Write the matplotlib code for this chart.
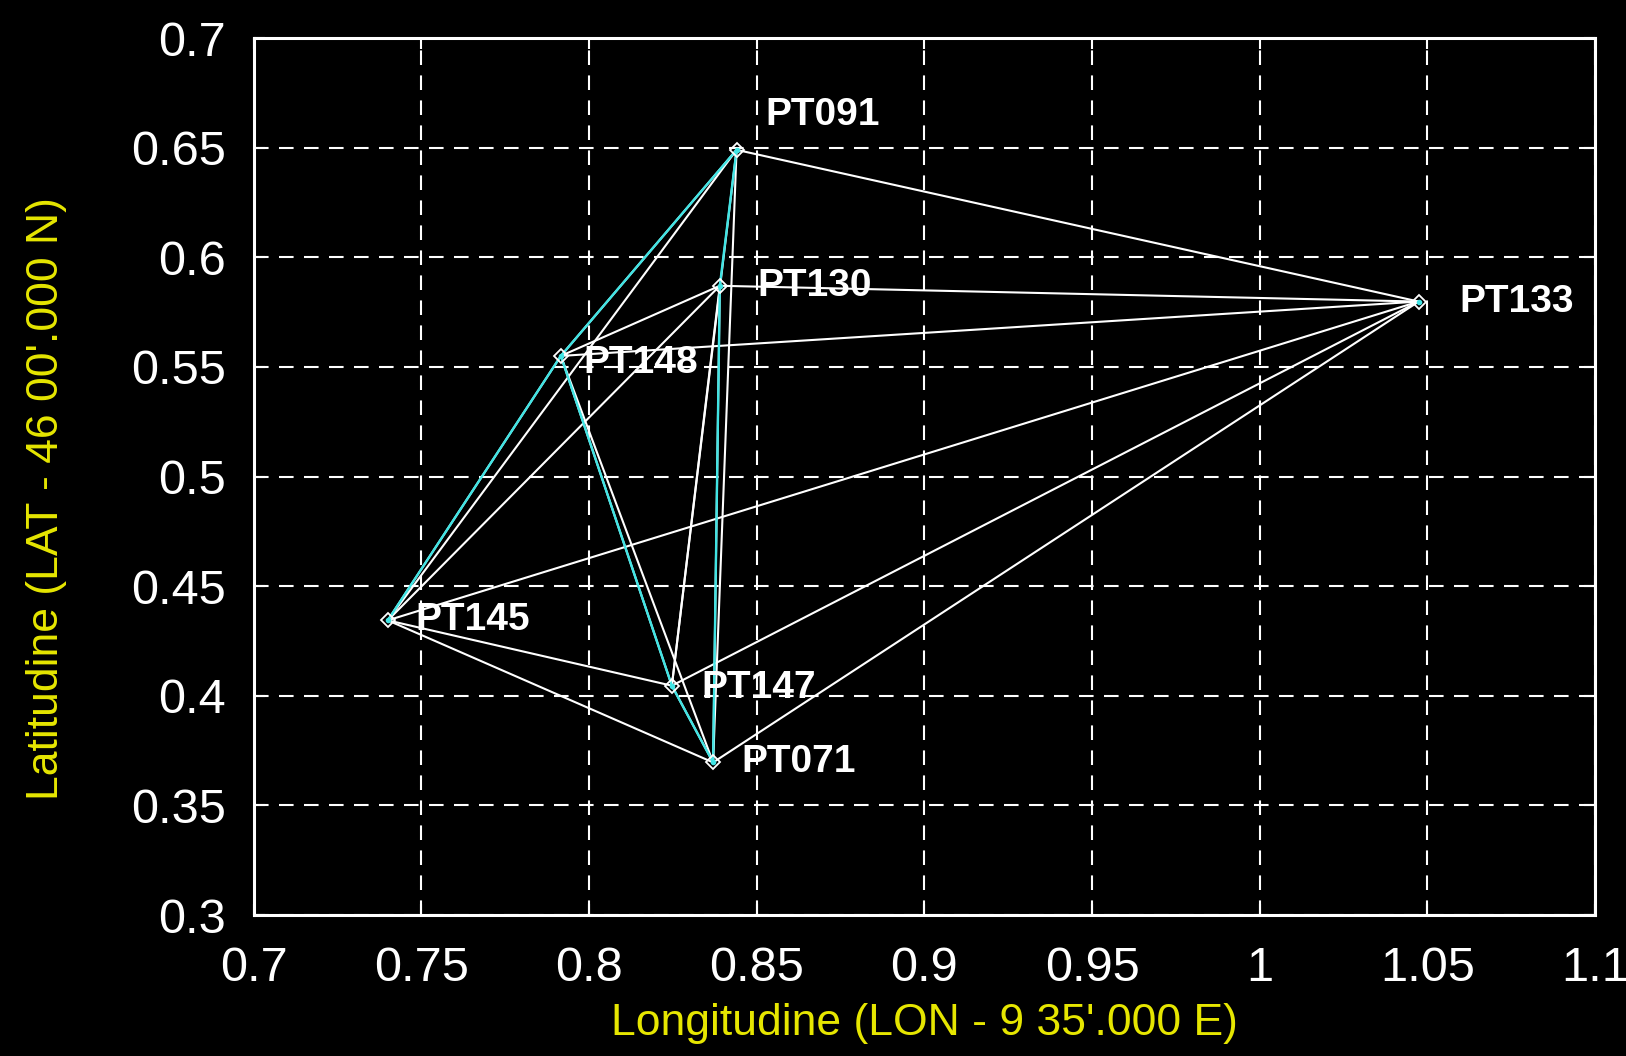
import matplotlib
matplotlib.use("Agg")
import matplotlib.pyplot as plt

plt.rcParams['font.family'] = ['Liberation Sans', 'DejaVu Sans']

# station coordinates (minutes offset from 9 35' E / 46 00' N)
names = ['PT091', 'PT130', 'PT148', 'PT133', 'PT145', 'PT147', 'PT071']
lon = [0.844, 0.839, 0.7916, 1.0474, 0.740, 0.8247, 0.837]
lat = [0.649, 0.587, 0.555, 0.5798, 0.4344, 0.4046, 0.3696]

# observed baselines
white_edges = [('PT091', 'PT133'), ('PT091', 'PT148'), ('PT091', 'PT145'),
               ('PT091', 'PT071'), ('PT091', 'PT147'),
               ('PT130', 'PT133'), ('PT130', 'PT148'), ('PT130', 'PT145'),
               ('PT130', 'PT071'), ('PT130', 'PT147'),
               ('PT148', 'PT133'), ('PT148', 'PT145'), ('PT148', 'PT147'),
               ('PT148', 'PT071'),
               ('PT145', 'PT133'), ('PT145', 'PT147'), ('PT145', 'PT071'),
               ('PT147', 'PT133'), ('PT147', 'PT071'),
               ('PT071', 'PT133')]
cyan_edges = [('PT091', 'PT148'), ('PT091', 'PT130'), ('PT130', 'PT071'),
              ('PT148', 'PT145'), ('PT148', 'PT147'), ('PT147', 'PT071')]

# label offsets in points
label_off = {'PT091': (21, 12), 'PT130': (27, 0), 'PT148': (16, -5),
             'PT133': (29, 0), 'PT145': (20, 0), 'PT147': (21, -2),
             'PT071': (20, 0)}

pos = {n: (x, y) for n, x, y in zip(names, lon, lat)}

fig = plt.figure(figsize=(16.26, 10.56), dpi=100, facecolor='black')
ax = fig.add_axes([0.156, 0.1335, 0.825, 0.8305], facecolor='black')

cyan = '#40e4e4'
for a, b in white_edges:
    ax.plot([pos[a][0], pos[b][0]], [pos[a][1], pos[b][1]], color='white', lw=1.5, zorder=3)
for a, b in cyan_edges:
    ax.plot([pos[a][0], pos[b][0]], [pos[a][1], pos[b][1]], color=cyan, lw=1.7, zorder=4)

ax.plot(lon, lat, ls='none', marker='D', ms=7, mfc='none', mec='white', mew=1.3, zorder=5)
ax.plot(lon, lat, ls='none', marker='.', ms=6, color=cyan, zorder=6)

for n in names:
    ax.annotate(n, pos[n], xytext=label_off[n], textcoords='offset points',
                ha='left', va='bottom' if n == 'PT091' else 'center',
                color='white', fontsize=28, fontweight='bold', zorder=7)

ax.set_xlim(0.7, 1.1)
ax.set_ylim(0.3, 0.7)
xt = [0.7, 0.75, 0.8, 0.85, 0.9, 0.95, 1.0, 1.05, 1.1]
yt = [0.3, 0.35, 0.4, 0.45, 0.5, 0.55, 0.6, 0.65, 0.7]
ax.set_xticks(xt)
ax.set_xticklabels(['0.7', '0.75', '0.8', '0.85', '0.9', '0.95', '1', '1.05', '1.1'])
ax.set_yticks(yt)
ax.set_yticklabels(['0.3', '0.35', '0.4', '0.45', '0.5', '0.55', '0.6', '0.65', '0.7'])

ax.grid(True, color='white', ls=(0, (7, 5)), lw=1.5)
ax.tick_params(axis='both', colors='white', direction='in', length=8, width=1.5,
               labelsize=35, top=True, right=True)
ax.tick_params(axis='x', pad=22)
ax.tick_params(axis='y', pad=20)
for s in ax.spines.values():
    s.set_color('white')
    s.set_linewidth(2.2)

yellow = '#e6e600'
ax.set_xlabel("Longitudine (LON - 9 35'.000 E)", color=yellow, fontsize=32)
ax.set_ylabel("Latitudine (LAT - 46 00'.000 N)", color=yellow, fontsize=32)
ax.xaxis.set_label_coords(0.5, -0.1)
ax.yaxis.set_label_coords(-0.139, 0.475)

fig.savefig('out.png', dpi=100, facecolor='black')
